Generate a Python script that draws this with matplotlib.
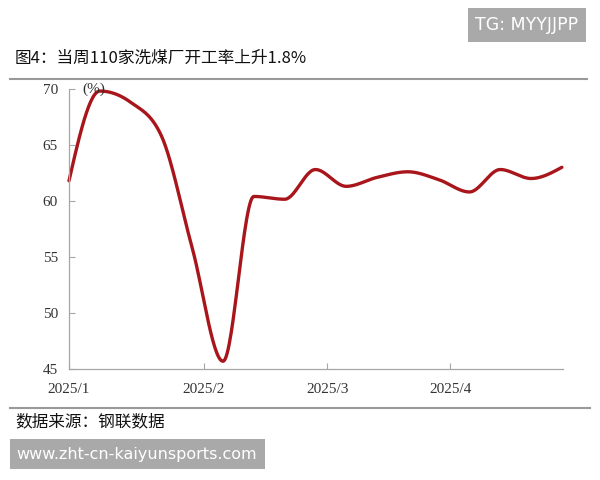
import numpy as np
import matplotlib
matplotlib.use('Agg')
import matplotlib.pyplot as plt

plt.rcParams['font.family'] = ['Noto Sans CJK SC', 'DejaVu Sans']

# Weekly operating rate of 110 coal washing plants (%)
weeks = list(range(17))
rate = [61.8, 69.8, 68.8, 65.8, 55.8, 45.7, 60.4, 60.15, 62.8,
        61.3, 62.1, 62.6, 61.9, 60.8, 62.8, 62.0, 63.0]
tick_pos = [0, 4.38, 8.38, 12.38]
tick_labels = ['2025/1', '2025/2', '2025/3', '2025/4']
y_ticks = [45, 50, 55, 60, 65, 70]

title = '图4：当周110家洗煤厂开工率上升1.8%'
source = '数据来源：钢联数据'


def smooth(x, y, n=30):
    # monotone cubic curve (Steffen) through the points
    x = np.asarray(x, float)
    y = np.asarray(y, float)
    h = np.diff(x)
    d = np.diff(y) / h
    m = np.zeros_like(y)
    for i in range(1, len(y) - 1):
        p = (d[i - 1] * h[i] + d[i] * h[i - 1]) / (h[i - 1] + h[i])
        m[i] = (np.sign(d[i - 1]) + np.sign(d[i])) * min(abs(d[i - 1]), abs(d[i]), 0.5 * abs(p))
    m[0] = (3 * d[0] - m[1]) / 2
    m[-1] = (3 * d[-1] - m[-2]) / 2
    xs, ys = [], []
    t = np.linspace(0, 1, n, endpoint=False)
    for i in range(len(h)):
        h00 = 2 * t ** 3 - 3 * t ** 2 + 1
        h10 = t ** 3 - 2 * t ** 2 + t
        h01 = -2 * t ** 3 + 3 * t ** 2
        h11 = t ** 3 - t ** 2
        xs.extend(x[i] + t * h[i])
        ys.extend(h00 * y[i] + h10 * h[i] * m[i] + h01 * y[i + 1] + h11 * h[i] * m[i + 1])
    xs.append(x[-1])
    ys.append(y[-1])
    return xs, ys


fig = plt.figure(figsize=(6, 4.8), dpi=100)
ax = fig.add_axes([0.115, 0.231, 0.823, 0.584])

sx, sy = smooth(weeks, rate)
ax.plot(sx, sy, color='#A8161B', linewidth=2.4, solid_capstyle='round', clip_on=False)

ax.set_xlim(0, 16.03)
ax.set_ylim(45, 70)
ax.set_yticks(y_ticks)
ax.set_xticks(tick_pos)
ax.set_xticklabels(tick_labels)

for s in ['top', 'right']:
    ax.spines[s].set_visible(False)
for s in ['left', 'bottom']:
    ax.spines[s].set_color('#a6a6a6')
    ax.spines[s].set_linewidth(0.9)

ax.tick_params(axis='both', direction='in', length=4.5, width=0.8, color='#a6a6a6',
               labelsize=11, labelcolor='#333333')
ax.tick_params(axis='y', pad=8)
ax.tick_params(axis='x', pad=10)
for lab in ax.get_xticklabels() + ax.get_yticklabels():
    lab.set_family('Liberation Serif')

ax.text(0.027, 1.0, '(%)', transform=ax.transAxes, ha='left', va='center',
        fontsize=11, color='#333333', family='Liberation Serif')

# header and footer
fig.text(15 / 600, 1 - 58 / 480, title, fontsize=12, ha='left', va='center', color='#111111')
fig.add_artist(plt.Line2D([10 / 600, 587 / 600], [1 - 79 / 480] * 2, color='#999999', linewidth=1.5))
fig.add_artist(plt.Line2D([10 / 600, 590 / 600], [1 - 408 / 480] * 2, color='#999999', linewidth=1.5))
fig.text(15 / 600, 1 - 422 / 480, source, fontsize=12, ha='left', va='center', color='#111111')

# watermarks
fig.text(527 / 600, 1 - 25 / 480, 'TG: MYYJJPP', fontsize=12.5, ha='center', va='center', color='white',
         family='DejaVu Sans',
         bbox=dict(boxstyle='square,pad=0.45', facecolor='#a9a9a9', edgecolor='none'))
fig.text(137 / 600, 1 - 454 / 480, 'www.zht-cn-kaiyunsports.com', fontsize=11.5, ha='center', va='center',
         color='white', family='DejaVu Sans',
         bbox=dict(boxstyle='square,pad=0.45', facecolor='#a9a9a9', edgecolor='none'))

fig.savefig('out.png', dpi=100)
